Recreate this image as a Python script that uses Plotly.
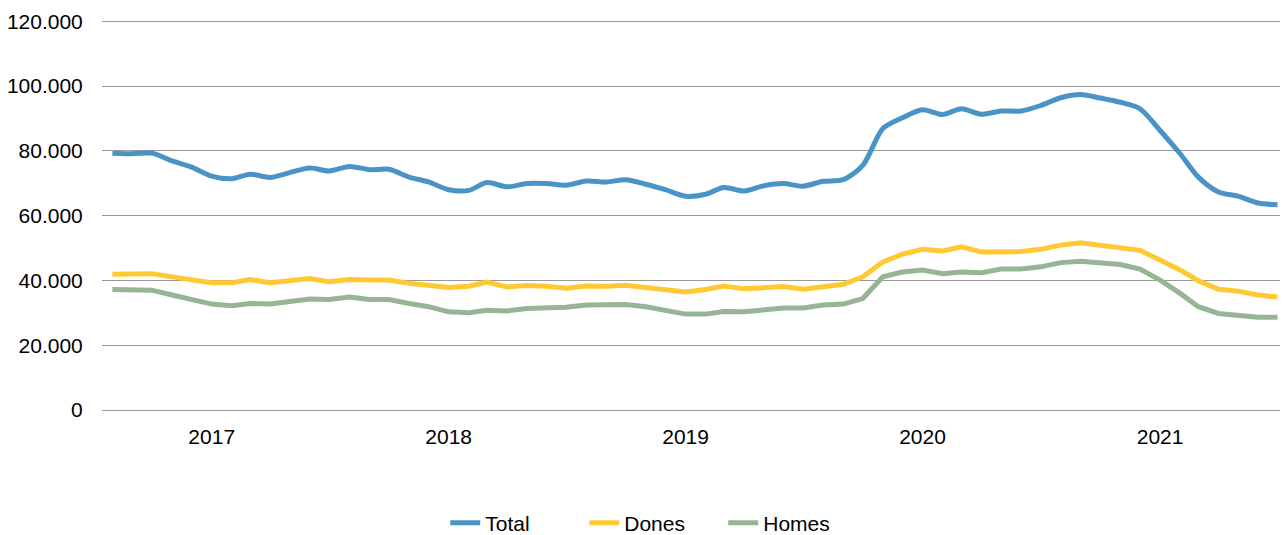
import pandas as pd
import plotly.graph_objects as go

# monthly series, Aug 2016 - Jul 2021
START_MONTH = "2016-08-01"
N_MONTHS = 60
months = pd.date_range(START_MONTH, periods=N_MONTHS, freq="MS")

total = [79.3, 79.1, 79.3, 76.9, 75.0, 72.2, 71.4, 72.8, 71.8, 73.3,
         74.7, 73.8, 75.2, 74.2, 74.3, 71.9, 70.4, 68.0, 67.8, 70.2,
         68.9, 69.9, 69.9, 69.4, 70.7, 70.4, 71.1, 69.7, 68.0, 66.0,
         66.6, 68.7, 67.6, 69.2, 69.9, 69.1, 70.6, 71.1, 75.5, 86.9,
         90.2, 92.7, 91.2, 93.0, 91.3, 92.3, 92.3, 94.0, 96.4, 97.4,
         96.3, 95.0, 93.0, 86.3, 79.1, 71.9, 67.3, 66.0, 63.9, 63.4]
dones = [41.9, 42.0, 42.1, 41.1, 40.3, 39.3, 39.3, 40.3, 39.3, 39.8,
         40.6, 39.6, 40.3, 40.1, 40.1, 39.1, 38.5, 37.8, 38.2, 39.5,
         38.0, 38.4, 38.2, 37.6, 38.3, 38.2, 38.5, 37.8, 37.2, 36.4,
         37.2, 38.3, 37.4, 37.9, 38.1, 37.3, 38.2, 38.8, 41.1, 45.7,
         48.1, 49.6, 49.1, 50.4, 48.8, 48.9, 48.9, 49.6, 50.9, 51.6,
         50.9, 50.3, 49.3, 46.3, 43.2, 39.9, 37.3, 36.7, 35.5, 34.9]
homes = [37.2, 37.0, 37.0, 35.5, 34.1, 32.7, 32.2, 32.9, 32.7, 33.5,
         34.3, 34.1, 34.9, 34.1, 34.1, 32.9, 31.9, 30.3, 30.0, 30.8,
         30.6, 31.3, 31.5, 31.7, 32.4, 32.4, 32.6, 31.9, 30.8, 29.6,
         29.6, 30.4, 30.3, 31.0, 31.5, 31.5, 32.4, 32.7, 34.4, 41.1,
         42.6, 43.2, 42.1, 42.6, 42.4, 43.5, 43.5, 44.2, 45.5, 45.9,
         45.5, 44.9, 43.5, 40.1, 36.0, 31.9, 29.8, 29.3, 28.6, 28.6]

YEAR_TICKS = ["2017-01-01", "2018-01-01", "2019-01-01", "2020-01-01", "2021-01-01"]
YEAR_LABELS = ["2017", "2018", "2019", "2020", "2021"]
Y_TICKS = [0, 20000, 40000, 60000, 80000, 100000, 120000]

SERIES = [("Total", total, "#4a93c6", "spline"),
          ("Dones", dones, "#ffc934", "linear"),
          ("Homes", homes, "#97b494", "linear")]

fig = go.Figure()
for name, vals, color, shape in SERIES:
	fig.add_scatter(x=months, y=[v * 1000 for v in vals], name=name, mode="lines",
	                line=dict(color=color, width=5, shape=shape, smoothing=0.8))

# the page body adds an 8px margin, so the figure is drawn 8px smaller
fig.update_xaxes(range=["2016-07-16", "2021-07-14"], tickvals=YEAR_TICKS, ticktext=YEAR_LABELS,
                 showgrid=False, showline=False, zeroline=False,
                 ticks="outside", ticklen=8, tickcolor="white",
                 tickfont=dict(size=21), automargin=False)
fig.update_yaxes(range=[0, 120400], tickvals=Y_TICKS, tickformat=",.0f",
                 gridcolor="#999999", gridwidth=1.4, zeroline=True, zerolinecolor="#999999",
                 zerolinewidth=1.4, showline=False,
                 ticks="outside", ticklen=14, tickcolor="white",
                 tickfont=dict(size=21), automargin=False)
fig.update_layout(width=1280, height=527, template="plotly_white", separators=",.",
                  font=dict(family="Liberation Sans, Arial", size=21, color="#000000"),
                  margin=dict(l=94, r=2, t=12, b=125, autoexpand=False),
                  plot_bgcolor="white", paper_bgcolor="white",
                  legend=dict(orientation="h", x=0.466, xanchor="center",
                              y=-0.29, yanchor="middle", font=dict(size=21),
                              entrywidth=94, entrywidthmode="pixels"))

fig.write_html("out.html")
